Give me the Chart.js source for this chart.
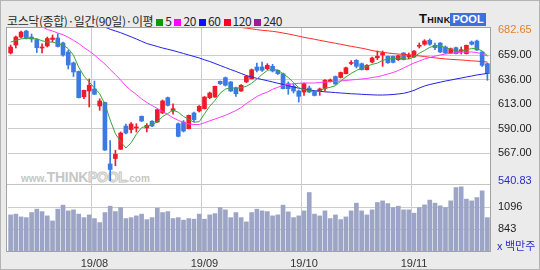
<!DOCTYPE html>
<html>
<head>
<meta charset="utf-8">
<script src="https://cdn.jsdelivr.net/npm/chart.js@4.4.1/dist/chart.umd.min.js"></script>
<style>
  html, body { margin: 0; padding: 0; }
  body { width: 540px; height: 270px; background: #ebebeb; overflow: hidden; }
  #wrap { position: relative; width: 540px; height: 270px; box-sizing: border-box; border: 1px solid #b4b4b4; }
  .title { position: absolute; left: 6px; top: 11px; font: 12px "Noto Sans CJK KR", sans-serif; color: #2a2a2a; white-space: nowrap; letter-spacing: -0.4px; }
  .title i { display: inline-block; width: 7px; height: 7px; margin: 0 2px 1px 3px; vertical-align: middle; }
  .logo { position: absolute; left: 418px; top: 11px; height: 13px; font: bold 13px "Liberation Sans", sans-serif; line-height: 13px; white-space: nowrap; }
  .logo b { font-variant: small-caps; color: #111; letter-spacing: 0.3px; }
  .logo span { display: inline-block; background: #3e70d8; color: #fff; padding: 0 2px; font-size: 11px; }
  .plot { position: absolute; left: 5px; top: 26px; width: 483px; height: 223px; background: #fff; border: 1px solid #a2a2a2; }
  .sep { position: absolute; left: 6px; top: 183px; width: 483px; height: 1px; background: #c4c4c4; }
  .mark { position: absolute; left: 20px; top: 168px; font: bold 10px "Liberation Sans", sans-serif; color: #c6c6c6; white-space: nowrap; }
  .mark b { font-size: 14px; letter-spacing: -0.3px; }
  .mark b.pool { color: #f4f4f4; -webkit-text-stroke: 1px #c6c6c6; }
  canvas { position: absolute; left: 0; top: 0; }
  .unit { position: absolute; left: 496px; top: 236px; font: 11px "Noto Sans CJK KR", sans-serif; color: #2b2bd0; white-space: nowrap; }
</style>
</head>
<body>
<div id="wrap">
  <div class="title">코스닥(종합)·일간(90일)·이평<i style="background:#0a9a0a"></i>5<i style="background:#ff00ff"></i>20<i style="background:#1010ff"></i>60<i style="background:#ff0020"></i>120<i style="background:#9a1a9a"></i>240</div>
  <div class="logo"><b>Think</b><span>POOL</span></div>
  <div class="plot"></div>
  <div class="sep"></div>
  <div class="mark">www.<b>THINK</b><b class="pool">POOL</b>.com</div>
  <canvas id="chart" width="540" height="270"></canvas>
  <div class="unit">x 백만주</div>
</div>
<script>
const days = [
  '19/07/10', '19/07/11', '19/07/12', '19/07/15', '19/07/16', '19/07/17', '19/07/18', '19/07/19',
  '19/07/22', '19/07/23', '19/07/24', '19/07/25', '19/07/26', '19/07/29', '19/07/30', '19/07/31',
  '19/08/01', '19/08/02', '19/08/05', '19/08/06', '19/08/07', '19/08/08', '19/08/09', '19/08/12',
  '19/08/13', '19/08/14', '19/08/16', '19/08/19', '19/08/20', '19/08/21', '19/08/22', '19/08/23',
  '19/08/26', '19/08/27', '19/08/28', '19/08/29', '19/08/30',
  '19/09/02', '19/09/03', '19/09/04', '19/09/05', '19/09/06', '19/09/09', '19/09/10', '19/09/11',
  '19/09/16', '19/09/17', '19/09/18', '19/09/19', '19/09/20', '19/09/23', '19/09/24', '19/09/25',
  '19/09/26', '19/09/27', '19/09/30',
  '19/10/01', '19/10/02', '19/10/04', '19/10/07', '19/10/08', '19/10/10', '19/10/11', '19/10/14',
  '19/10/15', '19/10/16', '19/10/17', '19/10/18', '19/10/21', '19/10/22', '19/10/23', '19/10/24',
  '19/10/25', '19/10/28', '19/10/29', '19/10/30', '19/10/31',
  '19/11/01', '19/11/04', '19/11/05', '19/11/06', '19/11/07', '19/11/08', '19/11/11', '19/11/12',
  '19/11/13', '19/11/14', '19/11/15', '19/11/18', '19/11/19', '19/11/20', '19/11/21'
];

const opens = [
  661.2, 668.7, 676.2, 681.9, 676.2, 673.9, 665.9, 667.8, 673.9, 675.3, 670.6, 662.1, 651.8, 643.8, 619.9, 625.4,
  627.3, 611.3, 614.6, 556.7, 561.8, 570.5, 592.4, 589.1, 590.6, 601.6, 590.6, 596.9, 596.2, 604.7, 619.1, 606.6,
  594.6, 596.2, 589.9, 604.7, 606.6,
  608.7, 619.1, 619.7, 634.5, 637.9, 633.9, 628.2, 625.4, 633.9, 636.9, 648.0, 648.0, 646.4, 648.6, 644.9, 641.7,
  632.3, 629.8, 625.4,
  624.4, 628.2, 624.4, 625.4, 627.7, 634.3, 639.0, 638.1, 641.7, 651.3, 654.3, 651.1, 645.4, 652.7, 656.7, 659.3,
  658.1, 658.1, 654.9, 661.2, 657.4,
  657.4, 667.5, 669.4, 673.1, 668.4, 670.6, 666.8, 661.2, 666.2, 663.0, 660.5, 671.5, 672.5, 662.1, 651.1
];
const highs = [
  668.7, 677.2, 681.9, 682.65, 679.1, 674.4, 669.9, 676.2, 678.1, 679.3, 671.5, 664.0, 652.7, 644.2, 626.3, 636.7,
  634.8, 618.1, 615.0, 578.8, 569.6, 586.8, 594.3, 595.7, 594.6, 601.8, 594.6, 597.6, 608.4, 616.9, 619.7, 613.4,
  595.3, 597.6, 602.8, 605.6, 611.7,
  620.2, 624.4, 630.1, 634.8, 638.6, 634.3, 629.2, 631.5, 640.0, 646.1, 651.8, 652.7, 651.1, 650.5, 645.2, 642.3,
  633.9, 632.3, 626.3,
  632.9, 630.1, 625.4, 628.2, 636.2, 636.7, 639.5, 643.3, 648.0, 654.1, 655.0, 651.8, 650.3, 657.4, 663.1, 663.1,
  658.3, 658.3, 659.3, 661.6, 661.2,
  663.5, 670.6, 673.7, 674.4, 670.6, 671.0, 667.8, 665.9, 666.8, 666.8, 668.7, 672.5, 673.4, 662.6, 651.8
];
const lows = [
  660.2, 665.9, 675.3, 674.4, 671.5, 661.6, 661.2, 666.8, 671.5, 666.8, 658.3, 646.1, 639.0, 618.8, 618.1, 610.3,
  622.1, 607.2, 569.4, 540.83, 555.0, 570.3, 584.9, 585.8, 586.8, 596.7, 586.8, 591.9, 595.7, 604.2, 611.3, 603.5,
  582.1, 586.8, 589.6, 596.2, 605.6,
  608.4, 618.1, 619.3, 631.5, 630.1, 624.9, 620.4, 624.9, 633.4, 636.7, 643.3, 643.9, 645.4, 643.3, 640.9, 627.3,
  622.3, 623.5, 615.0,
  621.3, 624.0, 620.7, 621.3, 625.4, 633.9, 631.5, 637.6, 641.4, 650.3, 647.1, 645.2, 645.2, 651.8, 654.9, 648.6,
  651.3, 651.8, 654.1, 654.6, 655.8,
  656.9, 665.9, 668.4, 668.4, 664.3, 661.6, 660.7, 660.7, 660.2, 660.2, 660.2, 668.7, 663.5, 648.6, 635.5
];
const closes = [
  666.8, 676.2, 680.9, 675.3, 674.4, 666.2, 666.8, 674.8, 675.3, 667.3, 659.3, 649.9, 643.3, 619.1, 626.0, 630.8,
  622.3, 616.0, 569.8, 551.5, 565.8, 585.8, 585.8, 594.3, 591.5, 597.1, 593.1, 592.4, 607.8, 616.0, 611.9, 608.7,
  582.7, 587.7, 602.5, 598.4, 611.0,
  619.7, 623.5, 629.8, 632.3, 630.8, 625.4, 622.8, 630.8, 639.2, 645.4, 644.9, 644.9, 649.6, 644.2, 641.7, 627.6,
  627.6, 625.4, 620.4,
  632.3, 624.4, 621.2, 627.3, 635.5, 635.8, 632.0, 642.8, 647.3, 652.2, 648.6, 645.4, 649.6, 656.5, 658.1, 661.2,
  652.0, 652.4, 658.6, 654.9, 659.0,
  663.0, 668.4, 672.5, 669.4, 666.2, 662.1, 661.2, 665.2, 660.5, 664.3, 668.4, 669.4, 664.0, 649.6, 641.7
];

// million shares
const volumes = [
  1007, 1016, 984, 976, 1034, 1073, 1045, 996, 938, 1073, 1119, 1053, 1065, 1016, 976, 1007,
  965, 919, 1034, 1107, 1045, 1091, 965, 976, 996, 1016, 953, 976, 1084, 1034, 1045, 965,
  976, 947, 965, 958, 1016,
  958, 1007, 1022, 1091, 1065, 976, 1034, 976, 927, 1034, 1073, 1053, 1045, 996, 1007, 1119,
  1042, 976, 996,
  1053, 1264, 1016, 996, 1053, 965, 1007, 953, 984, 1053, 1142, 1053, 1007, 1065, 1149, 1168,
  1137, 1091, 1107, 1065, 1065,
  1027, 1091, 1122, 1177, 1142, 1111, 1091, 1168, 1321, 1329, 1188, 1168, 1206, 1283, 976
];

// moving averages, null where the line is outside the panel
const ma5 = [
  671.5, 673.0, 674.5, 675.0, 674.7, 674.6, 672.7, 671.5, 671.5, 670.1, 668.7, 665.3, 659.0, 647.8, 639.5, 633.8,
  628.3, 622.8, 613.0, 598.1, 585.1, 577.8, 571.7, 576.6, 584.6, 590.9, 592.4, 593.7, 596.4, 601.3, 604.2, 607.4,
  605.4, 601.4, 598.7, 596.0, 596.5,
  603.9, 611.0, 616.5, 623.3, 627.2, 628.4, 628.2, 628.4, 629.8, 632.7, 636.6, 641.0, 644.8, 645.8, 645.1, 641.6,
  638.1, 633.3, 628.5,
  626.7, 626.0, 624.7, 625.1, 628.1, 628.8, 630.4, 634.7, 638.7, 642.0, 644.6, 647.3, 648.6, 650.5, 651.6, 654.2,
  655.5, 656.0, 656.5, 655.8, 655.4,
  657.6, 660.8, 663.6, 666.5, 667.9, 667.7, 666.3, 664.8, 663.0, 662.7, 663.9, 665.6, 665.3, 663.1, 658.6
];
const ma20 = [
  null, null, null, null, null, null, 686.0, 683.3, 681.9, 680.0, 678.4, 676.0, 673.1, 670.1, 666.3, 663.0,
  659.3, 655.0, 650.8, 645.6, 640.9, 635.7, 630.1, 625.9, 622.1, 617.9, 614.6, 611.7, 608.9, 606.1, 603.3, 600.2,
  597.8, 595.7, 594.3, 593.8, 593.8,
  595.5, 597.3, 599.0, 600.7, 602.5, 604.7, 607.0, 609.8, 613.6, 616.9, 620.2, 622.6, 624.4, 627.0, 628.9, 630.6,
  631.5, 632.3, 632.6,
  632.9, 632.9, 632.9, 633.4, 633.9, 634.1, 634.5, 634.8, 635.3, 635.8, 636.2, 636.7, 637.2, 638.1, 638.8, 640.0,
  641.4, 642.8, 644.7, 647.0, 649.4,
  651.8, 653.6, 655.5, 656.9, 658.2, 659.3, 660.2, 660.9, 661.5, 661.8, 662.1, 662.1, 661.6, 660.2, 658.3
];
const ma60 = [
  null, null, null, null, null, null, null, null, null, null, null, null, null, null, null, null,
  null, null, 685.5, 683.5, 681.9, 680.3, 678.4, 676.4, 674.4, 672.2, 670.1, 668.7, 667.3, 665.9, 664.7, 663.5,
  662.1, 660.7, 659.3, 657.9, 656.5,
  654.8, 653.2, 651.3, 649.4, 647.5, 645.6, 643.8, 641.9, 640.0, 638.6, 637.3, 636.2, 635.1, 633.9, 632.7, 631.5,
  630.3, 629.2, 628.0,
  627.1, 626.3, 625.7, 625.1, 624.6, 624.3, 623.9, 623.5, 623.2, 622.8, 622.6, 622.3, 622.0, 621.8, 621.6, 621.6,
  621.8, 622.1, 622.6, 623.2, 624.4,
  626.0, 628.2, 630.1, 631.5, 632.6, 633.7, 634.8, 635.7, 636.7, 637.6, 638.6, 639.5, 640.5, 641.2, 642.0
];
const ma120 = [
  null, null, null, null, null, null, null, null, null, null, null, null, null, null, null, null,
  null, null, null, null, null, null, null, null, null, null, null, null, null, null, null, null,
  null, null, null, null, null,
  null, null, null, null, null, null, null, 685.2, 684.6, 683.9, 683.2, 682.6, 682.1, 681.6, 680.9, 680.0,
  679.1, 678.1, 677.0,
  675.9, 675.0, 674.1, 673.1, 672.2, 671.2, 670.3, 669.4, 668.4, 667.5, 666.6, 665.7, 664.7, 663.5, 662.6, 661.8,
  661.2, 660.6, 660.2, 659.9, 659.5,
  659.0, 658.4, 657.9, 657.2, 656.6, 656.1, 655.6, 655.2, 654.9, 654.6, 654.2, 653.8, 653.5, 653.1, 652.7
];

const priceTicks = [540.83, 567, 590, 613, 636, 659, 682.65];
const volumeTicks = [843, 1096];

const UP = '#f01a2c';
const DOWN = '#3b79e3';
const candleColors = closes.map((c, i) => c >= opens[i] ? UP : DOWN);

function isMonthStart(i) {
  if (typeof i !== 'number' || i <= 0 || i >= days.length) return false;
  return days[i].slice(0, 5) !== days[i - 1].slice(0, 5);
}

const tickFont = { family: 'Liberation Sans', size: 11 };

new Chart(document.getElementById('chart'), {
  data: {
    labels: days,
    datasets: [
      { type: 'line', data: ma5, borderColor: '#35a835', borderWidth: 1, pointRadius: 0, yAxisID: 'y', order: 0 },
      { type: 'line', data: ma20, borderColor: '#ff3cff', borderWidth: 1, pointRadius: 0, yAxisID: 'y', order: 0 },
      { type: 'line', data: ma60, borderColor: '#2222e6', borderWidth: 1, pointRadius: 0, yAxisID: 'y', order: 0 },
      { type: 'line', data: ma120, borderColor: '#ff2a2a', borderWidth: 1, pointRadius: 0, yAxisID: 'y', order: 0 },
      {
        type: 'bar', data: opens.map((o, i) => [o, closes[i]]), backgroundColor: candleColors,
        barThickness: 4, minBarLength: 1, grouped: false, yAxisID: 'y', order: 1
      },
      {
        type: 'bar', data: lows.map((l, i) => [l, highs[i]]), backgroundColor: candleColors,
        barThickness: 1, grouped: false, yAxisID: 'y', order: 2
      },
      {
        type: 'bar', data: volumes, backgroundColor: '#9da5c6',
        barThickness: 4, grouped: false, yAxisID: 'v', order: 3
      }
    ]
  },
  options: {
    responsive: false,
    animation: false,
    layout: { padding: { left: 7, top: 27, right: 0, bottom: 0 } },
    plugins: { legend: { display: false }, tooltip: { enabled: false } },
    scales: {
      x: {
        type: 'category',
        offset: true,
        grid: {
          offset: true,
          drawTicks: false,
          color: ctx => isMonthStart(ctx.index) ? '#cccccc' : 'rgba(0,0,0,0)'
        },
        border: { display: false },
        ticks: {
          autoSkip: false, maxRotation: 0, padding: 6, font: tickFont, color: '#333',
          callback: function (value, index) { return isMonthStart(index) ? days[index].slice(0, 5) : ''; }
        },
        afterFit: s => { s.height = 20; }
      },
      y: {
        type: 'linear', position: 'right', stack: 'panes', stackWeight: 157,
        min: 536.87, max: 684.72,
        afterBuildTicks: s => { s.ticks = priceTicks.map(v => ({ value: v })); },
        grid: {
          drawTicks: false,
          color: ctx => (ctx.tick && ctx.tick.value > 541 && ctx.tick.value < 682) ? '#cbcbcb' : 'rgba(0,0,0,0)'
        },
        border: { display: false },
        ticks: {
          autoSkip: false, padding: 8, font: tickFont,
          color: ctx => !ctx.tick ? '#222' : ctx.tick.value === 682.65 ? '#e0802a' : ctx.tick.value === 540.83 ? '#2a2ad2' : '#222',
          callback: v => v.toFixed(2)
        },
        afterFit: s => { s.width = 51; }
      },
      v: {
        type: 'linear', position: 'right', stack: 'panes', stackWeight: 66,
        min: 593, max: 1350,
        afterBuildTicks: s => { s.ticks = volumeTicks.map(v => ({ value: v })); },
        grid: { drawTicks: false, color: '#cbcbcb' },
        border: { display: false },
        ticks: { autoSkip: false, padding: 8, font: tickFont, color: '#222', callback: v => String(v) },
        afterFit: s => { s.width = 51; }
      }
    }
  }
});
</script>
</body>
</html>
